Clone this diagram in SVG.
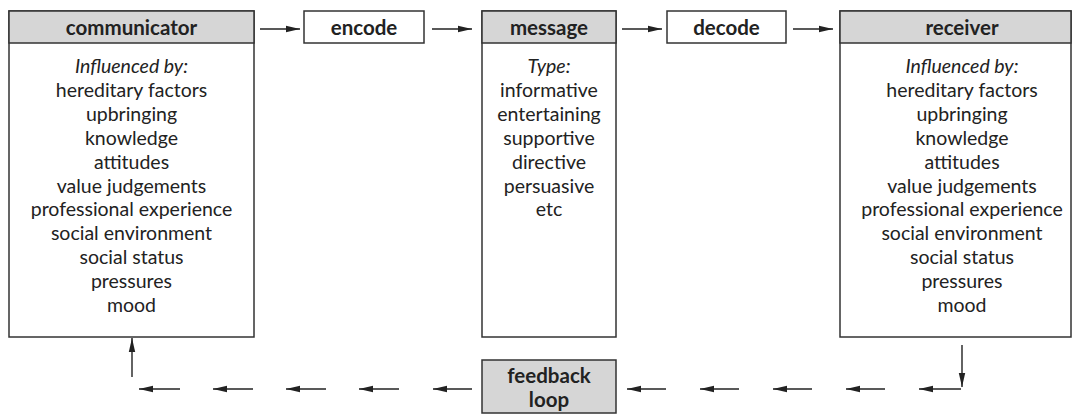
<svg xmlns="http://www.w3.org/2000/svg" width="1080" height="414" viewBox="0 0 1080 414">
<defs>
<marker id="ah" markerUnits="userSpaceOnUse" markerWidth="16" markerHeight="8" refX="14" refY="4" orient="auto">
<path d="M0,0.8 L14,4 L0,7.2 z" fill="#222"/>
</marker>
<style>
.box{fill:#fff;stroke:#333;stroke-width:1.5}
.hdr{fill:#d6d6d6;stroke:#333;stroke-width:1.5}
.ht{font-family:Lato,"Open Sans",sans-serif;font-weight:bold;font-size:20.5px;fill:#222;text-anchor:middle}
.bt{font-family:Lato,"Open Sans",sans-serif;font-size:19.5px;fill:#222;text-anchor:middle}
.it{font-style:italic}
.cn{stroke:#222;stroke-width:1.4;fill:none;marker-end:url(#ah)}
</style>
</defs>
<rect width="1080" height="414" fill="#fff"/>
<g id="communicator">
<rect class="box" x="9" y="11" width="245" height="326"/>
<rect class="hdr" x="9" y="11" width="245" height="32"/>
<text class="ht" x="131.5" y="34.5">communicator</text>
<text class="bt" x="131.5" y="73"><tspan class="it" x="131.5">Influenced by:</tspan><tspan x="131.5" dy="23.9">hereditary factors</tspan><tspan x="131.5" dy="23.9">upbringing</tspan><tspan x="131.5" dy="23.9">knowledge</tspan><tspan x="131.5" dy="23.9">attitudes</tspan><tspan x="131.5" dy="23.9">value judgements</tspan><tspan x="131.5" dy="23.9">professional experience</tspan><tspan x="131.5" dy="23.9">social environment</tspan><tspan x="131.5" dy="23.9">social status</tspan><tspan x="131.5" dy="23.9">pressures</tspan><tspan x="131.5" dy="23.9">mood</tspan></text>
</g>
<g id="encode">
<rect class="box" x="304" y="11" width="120" height="32"/>
<text class="ht" x="364" y="34.5">encode</text>
</g>
<g id="message">
<rect class="box" x="482" y="11" width="134" height="326"/>
<rect class="hdr" x="482" y="11" width="134" height="32"/>
<text class="ht" x="549" y="34.5">message</text>
<text class="bt" x="549" y="73"><tspan class="it" x="549">Type:</tspan><tspan x="549" dy="23.9">informative</tspan><tspan x="549" dy="23.9">entertaining</tspan><tspan x="549" dy="23.9">supportive</tspan><tspan x="549" dy="23.9">directive</tspan><tspan x="549" dy="23.9">persuasive</tspan><tspan x="549" dy="23.9">etc</tspan></text>
</g>
<g id="decode">
<rect class="box" x="667" y="11" width="119" height="32"/>
<text class="ht" x="726.5" y="34.5">decode</text>
</g>
<g id="receiver">
<rect class="box" x="840" y="11" width="231" height="326"/>
<rect class="hdr" x="840" y="11" width="231" height="32"/>
<text class="ht" x="962" y="34.5">receiver</text>
<text class="bt" x="962" y="73"><tspan class="it" x="962">Influenced by:</tspan><tspan x="962" dy="23.9">hereditary factors</tspan><tspan x="962" dy="23.9">upbringing</tspan><tspan x="962" dy="23.9">knowledge</tspan><tspan x="962" dy="23.9">attitudes</tspan><tspan x="962" dy="23.9">value judgements</tspan><tspan x="962" dy="23.9">professional experience</tspan><tspan x="962" dy="23.9">social environment</tspan><tspan x="962" dy="23.9">social status</tspan><tspan x="962" dy="23.9">pressures</tspan><tspan x="962" dy="23.9">mood</tspan></text>
</g>
<g id="feedback">
<rect class="hdr" x="482" y="360" width="134" height="53"/>
<text class="ht" x="549" y="383">feedback</text>
<text class="ht" x="549" y="407">loop</text>
</g>
<g id="connectors">
<line class="cn" x1="260" y1="29" x2="300" y2="29"/>
<line class="cn" x1="432" y1="29" x2="472" y2="29"/>
<line class="cn" x1="622" y1="29" x2="662" y2="29"/>
<line class="cn" x1="793" y1="29" x2="833" y2="29"/>
<line class="cn" x1="962" y1="345" x2="962" y2="387"/>
<line class="cn" x1="961" y1="389" x2="919" y2="389"/>
<line class="cn" x1="885" y1="389" x2="846" y2="389"/>
<line class="cn" x1="812" y1="389" x2="773" y2="389"/>
<line class="cn" x1="739" y1="389" x2="700" y2="389"/>
<line class="cn" x1="666" y1="389" x2="627" y2="389"/>
<line class="cn" x1="472" y1="389" x2="433" y2="389"/>
<line class="cn" x1="399" y1="389" x2="359" y2="389"/>
<line class="cn" x1="326" y1="389" x2="286" y2="389"/>
<line class="cn" x1="253" y1="389" x2="213" y2="389"/>
<line class="cn" x1="180" y1="389" x2="139" y2="389"/>
<line class="cn" x1="132" y1="377" x2="132" y2="338"/>
</g>
</svg>
